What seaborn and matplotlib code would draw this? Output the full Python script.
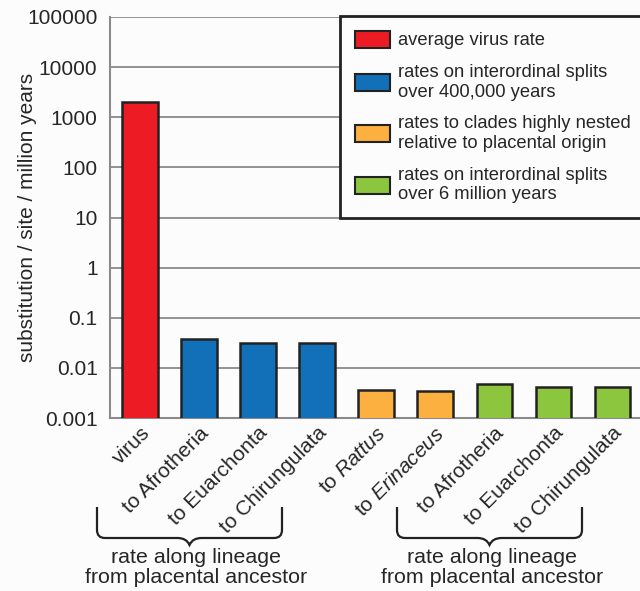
import numpy as np
import pandas as pd
import seaborn as sns
import matplotlib.pyplot as plt
from matplotlib.path import Path
from matplotlib.patches import PathPatch, Patch

sns.set_style('white')
plt.rcParams['font.family'] = ['Liberation Sans', 'DejaVu Sans']
plt.rcParams['mathtext.fontset'] = 'custom'
plt.rcParams['mathtext.rm'] = 'Liberation Sans'
plt.rcParams['mathtext.it'] = 'Liberation Sans:italic'

# data
labels = ['virus', 'to Afrotheria', 'to Euarchonta', 'to Chirungulata',
          r'to $\it{Rattus}$', r'to $\it{Erinaceus}$',
          'to Afrotheria', 'to Euarchonta', 'to Chirungulata']
rates = [2000, 0.0375, 0.032, 0.032, 0.0037, 0.0035, 0.0048, 0.0042, 0.0041]
groups = ['virus', 'short', 'short', 'short', 'nested', 'nested', 'long', 'long', 'long']

group_names = ['virus', 'short', 'nested', 'long']
legend_text = ['average virus rate',
               'rates on interordinal splits\nover 400,000 years',
               'rates to clades highly nested\nrelative to placental origin',
               'rates on interordinal splits\nover 6 million years']
colors = {'virus': '#ED1C24', 'short': '#1170B8', 'nested': '#FBB040', 'long': '#8CC63F'}

df = pd.DataFrame({'pos': range(len(rates)), 'rate': rates, 'group': groups})

W, H = 640, 591
bg = '#fcfcfc'
fig = plt.figure(figsize=(6.4, 5.91), dpi=100)
fig.patch.set_facecolor(bg)
ax = fig.add_axes([110/W, 1-418/H, 1-110/W, (418-17)/H])
ax.set_facecolor(bg)
ax.set_yscale('log')

sns.barplot(data=df, x='pos', y='rate', hue='group', palette=colors, dodge=False,
            saturation=1, width=0.6, edgecolor='#222222', linewidth=1.8,
            legend=False, ax=ax, zorder=3)

ax.set_ylim(0.001, 100000)
ax.set_xlim(-0.51, 8.47)
yt = [0.001, 0.01, 0.1, 1, 10, 100, 1000, 10000, 100000]
ax.set_yticks(yt, ['0.001', '0.01', '0.1', '1', '10', '100', '1000', '10000', '100000'])
ax.minorticks_off()
ax.yaxis.grid(True, color='#8a8a8a', linewidth=1.3, zorder=0)
ax.set_axisbelow(True)
ax.tick_params(axis='y', length=7, width=1.3, color='#8a8a8a', labelsize=15, pad=2)
ax.tick_params(axis='x', length=0, labelsize=15, pad=4)
ax.set_xticks(range(len(labels)), labels, rotation=45, ha='right', rotation_mode='anchor')
for s in ['top', 'right']:
    ax.spines[s].set_visible(False)
for s in ['left', 'bottom']:
    ax.spines[s].set_color('#8a8a8a')
    ax.spines[s].set_linewidth(1.5)
ax.set_xlabel('')
ax.set_ylabel('substitution / site / million years', fontsize=15)
ax.yaxis.set_label_coords((37 - 110) / (W - 110), 0.5)

handles = [Patch(facecolor=colors[g], edgecolor='#222222', linewidth=1.5) for g in group_names]
leg = ax.legend(handles, legend_text, loc='upper left',
                bbox_to_anchor=(340/W, 1-16/H), bbox_transform=fig.transFigure,
                borderaxespad=0, fontsize=13.2, frameon=True, fancybox=False,
                handlelength=1.9, handleheight=1.05, handletextpad=0.45,
                labelspacing=0.8, borderpad=0.8)
leg.get_frame().set_edgecolor('#222222')
leg.get_frame().set_linewidth(2)
leg.get_frame().set_facecolor(bg)
leg.get_frame().set_alpha(1)
leg.set_zorder(10)


def brace(x0, x1, ytop, ybot, xtext):
    # curly brace in pixel coords (y downward)
    xm = (x0 + x1) / 2
    yh = ybot - 7
    r = 8
    verts = [(x0, ytop), (x0, yh - r), (x0, yh), (x0 + r, yh),
             (xm - 12, yh), (xm - 3, yh), (xm, ybot),
             (xm + 3, yh), (xm + 12, yh),
             (x1 - r, yh), (x1, yh), (x1, yh - r), (x1, ytop)]
    codes = [Path.MOVETO, Path.LINETO, Path.CURVE3, Path.CURVE3,
             Path.LINETO, Path.CURVE3, Path.CURVE3,
             Path.CURVE3, Path.CURVE3,
             Path.LINETO, Path.CURVE3, Path.CURVE3, Path.LINETO]
    verts = [(x / W, 1 - y / H) for x, y in verts]
    fig.add_artist(PathPatch(Path(verts, codes), facecolor='none', edgecolor='#222222',
                             linewidth=1.6, transform=fig.transFigure))
    fig.text(xtext / W, 1 - (ybot + 3) / H, 'rate along lineage\nfrom placental ancestor',
             ha='center', va='top', fontsize=15.4, linespacing=1.08)


brace(97, 282, 507, 545, 196)
brace(397, 582, 507, 545, 492)

plt.savefig('out.png', dpi=100, facecolor=fig.get_facecolor())
